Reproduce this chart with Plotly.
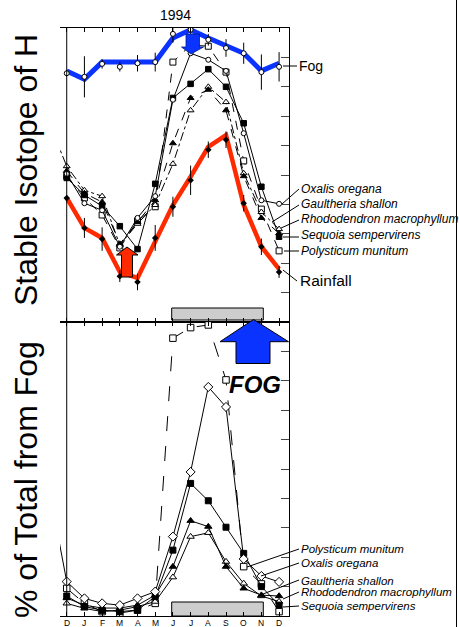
import plotly.graph_objects as go

# ---------------- data ----------------
months = ["D", "J", "F", "M", "A", "M", "J", "J", "A", "S", "O", "N", "D"]
month_idx = list(range(len(months)))
prev_idx = -1  # November of the previous year (only its connecting segment is visible)

# top panel: deuterium (arbitrary delta units, no tick labels in source)
fog_line = [-37.3, -38.7, -35.8, -35.8, -35.8, -35.8, -31.7, -30.3, -31.7, -32.9, -34.3, -37.3, -36.0]
fog_dD = [-37.7, -38.3, -36.1, -36.6, -36.0, -35.8, -31.0, -30.3, -32.0, -33.4, -34.3, -37.5, -36.6]
fog_err = [0.5, 3.5, 0.8, 0.8, 1.4, 1.6, 1.5, 1.0, 1.0, 1.5, 1.8, 3.0, 2.5]
rain_line = [-58.9, -64.0, -65.7, -71.5, -72.5, -66.1, -60.1, -55.3, -50.2, -48.2, -60.1, -67.2, -71.0]
rain_dD = [-58.9, -64.0, -65.9, -72.2, -73.2, -65.7, -60.4, -55.9, -50.7, -49.0, -59.8, -67.2, -71.5]
rain_err = [0.5, 1.7, 2.0, 1.0, 1.4, 2.2, 1.7, 2.5, 1.4, 1.4, 1.4, 1.4, 1.0]

oxalis_dD = [-54.8, -59.8, -61.0, -67.2, -62.3, -58.6, -42.2, -34.3, -35.4, -37.3, -47.9, -59.3, -59.9]
sequoia_dD = [-55.5, -58.4, -60.3, -63.7, -67.6, -56.5, -41.9, -39.5, -37.0, -40.0, -46.2, -57.0, -65.5]
polysticum_dD = [-55.2, -58.9, -61.8, -67.4, -62.8, -60.4, -35.8, -32.9, -33.1, -37.5, -52.6, -60.8, -67.9]
gaultheria_dD = [-54.3, -58.1, -59.6, -66.7, -63.0, -59.3, -49.6, -41.9, -40.5, -44.0, -55.2, -62.3, -64.9]
rhodo_dD = [-53.5, -57.6, -58.6, -66.9, -63.3, -60.1, -53.1, -44.0, -40.0, -42.6, -54.7, -61.3, -64.2]
rhodo_dD_prev = -46.1

# bottom panel: % of total water from fog
oxalis_pct = [11.7, 6.0, 4.3, 3.7, 6.0, 8.3, 27.0, 49.0, 77.9, 71.1, 19.4, 13.6, 11.6]
oxalis_pct_prev = 43.5
polysticum_pct = [9.4, 4.3, 1.5, 1.0, 2.0, 4.3, 94.5, 98.1, 99.0, 80.3, 16.8, 10.9, 1.5]
sequoia_pct = [6.8, 3.2, 2.0, 1.5, 2.0, 6.6, 22.4, 45.1, 39.2, 30.2, 21.3, 10.0, 3.7]
gaultheria_pct = [6.1, 3.7, 2.7, 2.7, 3.7, 7.1, 16.8, 32.4, 30.4, 16.8, 9.4, 7.1, 6.8]
rhodo_pct = [4.3, 2.6, 1.5, 2.0, 3.2, 4.9, 13.2, 27.0, 28.3, 18.5, 11.1, 6.8, 4.9]

# ---------------- layout helpers (pixel -> paper) ----------------
FW, FH = 459, 627
L, T, R, B = 60, 28, 170, 11
PW, PH = FW - L - R, FH - T - B


def px(x):
    return (x - L) / PW


def py(y):
    return (T + PH - y) / PH


FONT = "Liberation Sans, Arial, Helvetica, sans-serif"
BLUE = "#0a33ff"
RED = "#ff2a00"

fig = go.Figure()


def species(y, sym, dash, size, fill, xa, ya, prev=None):
    xs, ys = list(month_idx), list(y)
    if prev is not None:
        xs, ys = [prev_idx] + xs, [prev] + ys
    fig.add_trace(go.Scatter(
        x=xs, y=ys, mode="lines+markers", xaxis=xa, yaxis=ya,
        line=dict(color="black", width=1, dash=dash),
        marker=dict(symbol=sym, size=size, color=fill, line=dict(color="black", width=1)),
        showlegend=False, hoverinfo="skip"))


# top panel species
species(polysticum_dD, "square", "dash", 6, "white", "x", "y")
species(rhodo_dD, "triangle-up", "dashdot", 6, "white", "x", "y", prev=rhodo_dD_prev)
species(gaultheria_dD, "triangle-up", "dash", 6, "black", "x", "y")
species(sequoia_dD, "square", "solid", 5.5, "black", "x", "y")
species(oxalis_dD, "circle", "solid", 5, "white", "x", "y")

# thick highlight lines
fig.add_trace(go.Scatter(x=month_idx, y=rain_line, mode="lines", line=dict(color=RED, width=4.5),
                         showlegend=False, hoverinfo="skip"))
fig.add_trace(go.Scatter(x=month_idx, y=fog_line, mode="lines", line=dict(color=BLUE, width=5),
                         showlegend=False, hoverinfo="skip"))
# measured fog and rain with error bars
fig.add_trace(go.Scatter(x=month_idx, y=fog_dD, mode="markers",
                         marker=dict(symbol="circle", size=5, color="white", line=dict(color="black", width=1)),
                         error_y=dict(type="data", array=fog_err, color="black", thickness=1, width=0),
                         showlegend=False, hoverinfo="skip"))
fig.add_trace(go.Scatter(x=month_idx, y=rain_dD, mode="markers",
                         marker=dict(symbol="diamond", size=5, color="black"),
                         error_y=dict(type="data", array=rain_err, color="black", thickness=1, width=0),
                         showlegend=False, hoverinfo="skip"))

# bottom panel species
species(polysticum_pct, "square", "longdash", 6.5, "white", "x2", "y2")
species(rhodo_pct, "triangle-up", "solid", 6.5, "white", "x2", "y2")
species(gaultheria_pct, "triangle-up", "solid", 6.5, "black", "x2", "y2")
species(sequoia_pct, "square", "solid", 6, "black", "x2", "y2")
species(oxalis_pct, "diamond", "solid", 7, "white", "x2", "y2", prev=oxalis_pct_prev)

xr = [-0.38, 12.56]
ax_common = dict(range=xr, showgrid=False, zeroline=False, showline=True, linecolor="black",
                 linewidth=1, mirror="ticks", ticks="inside", ticklen=4, tickcolor="black",
                 tickvals=month_idx, showticklabels=False)
fig.update_layout(
    width=FW, height=FH, margin=dict(l=L, r=R, t=T, b=B, autoexpand=False),
    paper_bgcolor="white", plot_bgcolor="white", showlegend=False,
    font=dict(family=FONT, color="black"),
    xaxis=dict(**ax_common, anchor="y"),
    xaxis2=dict(**ax_common, anchor="y2"),
    yaxis=dict(domain=[0.5, 1], range=[-80, -30], dtick=5, side="right", anchor="x",
               showgrid=False, zeroline=False, showline=True, linecolor="black", linewidth=1,
               ticks="inside", ticklen=8, showticklabels=False),
    yaxis2=dict(domain=[0, 0.5], range=[0, 100], dtick=10, side="right", anchor="x2",
                showgrid=False, zeroline=False, showline=True, linecolor="black", linewidth=1,
                ticks="inside", ticklen=8, showticklabels=False),
)

shapes = []
# vertical line at first December
shapes.append(dict(type="line", xref="x", yref="paper", x0=0, x1=0, y0=0, y1=1,
                   line=dict(color="black", width=1)))
# fog-season boxes
for y0, y1 in [(320, 308), (616, 602)]:
    shapes.append(dict(type="rect", xref="paper", yref="paper", x0=px(171.7), x1=px(263.3),
                       y0=py(y0), y1=py(y1), fillcolor="#cdcdcd",
                       line=dict(color="black", width=1), layer="below"))


def path(pts):
    return "M " + " L ".join(f"{px(a):.5f},{py(b):.5f}" for a, b in pts) + " Z"


# red arrow (up)
shapes.append(dict(type="path", xref="paper", yref="paper", layer="above",
                   path=path([(121.5, 277), (121.5, 255), (116.5, 255), (127, 247), (138, 255),
                              (132.5, 255), (132.5, 277)]),
                   fillcolor=RED, line=dict(color="black", width=1)))
# small blue arrow (down)
shapes.append(dict(type="path", xref="paper", yref="paper", layer="above",
                   path=path([(186, 34), (199.5, 34), (199.5, 47), (203.5, 47), (191, 54),
                              (181.5, 47), (186, 47)]),
                   fillcolor=BLUE, line=dict(color="#001a80", width=0.8)))
# big blue arrow (up)
shapes.append(dict(type="path", xref="paper", yref="paper", layer="above",
                   path=path([(236, 363.5), (236, 341.7), (220, 341.7), (253.5, 319.5), (288.5, 341.7),
                              (270, 341.7), (270, 363.5)]),
                   fillcolor=BLUE, line=dict(color="black", width=1)))

# leader lines
leaders = [
    ((283, 66), (297, 66)),
    ((299, 189), (282, 204)),
    ((299, 205), (272, 222)),
    ((299, 220), (281, 228)),
    ((299, 237), (283, 237)),
    ((299, 251), (284, 251)),
    ((297, 281), (283, 270)),
    ((299, 549), (247, 567)),
    ((299, 563), (261, 576)),
    ((299, 580), (263, 594)),
    ((299, 592), (283, 599)),
    ((299, 606), (283, 607)),
]
for (a, b), (c, d) in leaders:
    shapes.append(dict(type="line", xref="paper", yref="paper", x0=px(a), y0=py(b), x1=px(c), y1=py(d),
                       line=dict(color="black", width=1)))
# outer frame line on the right
shapes.append(dict(type="line", xref="paper", yref="paper", x0=px(456.5), x1=px(456.5),
                   y0=py(FH), y1=py(0), line=dict(color="black", width=1)))
fig.update_layout(shapes=shapes)

ann = []


def text(t, x, y, size, italic=False, xanchor="left", angle=0, bold=False, fam=FONT):
    s = t
    if italic:
        s = f"<i>{s}</i>"
    if bold:
        s = f"<b>{s}</b>"
    ann.append(dict(text=s, x=px(x), y=py(y), xref="paper", yref="paper", showarrow=False,
                    xanchor=xanchor, yanchor="middle", textangle=angle, borderpad=0,
                    font=dict(size=size, family=fam, color="black")))


# month labels along the bottom axis
for i, m in zip(month_idx, months):
    ann.append(dict(text=m, x=i, xref="x2", y=py(622.5), yref="paper", showarrow=False,
                    xanchor="center", yanchor="middle", borderpad=0,
                    font=dict(size=8.5, family=FONT, color="black")))

text("1994", 175, 15, 14, xanchor="center")
text("Fog", 298, 66, 14)
text("Rainfall", 299, 280, 15.5)
top_labels = [("Oxalis oregana", 189.3), ("Gaultheria shallon", 204.3),
              ("Rhododendron macrophyllum", 219.3), ("Sequoia sempervirens", 235),
              ("Polysticum munitum", 250.7)]
for t, y in top_labels:
    text(t, 300, y, 12, italic=True)
bottom_labels = [("Polysticum munitum", 549.3), ("Oxalis oregana", 563.3),
                 ("Gaultheria shallon", 580.5), ("Rhododendron macrophyllum", 592.3),
                 ("Sequoia sempervirens", 606)]
for t, y in bottom_labels:
    text(t, 300, y, 11.5, italic=True)
text("<i>FOG</i>", 255, 384, 24, xanchor="center", bold=True)
text("Stable Isotope of H", 26, 170, 32, xanchor="center", angle=-90)
text("% of Total from Fog", 26, 480, 32, xanchor="center", angle=-90)
fig.update_layout(annotations=ann)

fig.write_html("out.html", config={"displayModeBar": False},
               post_script="document.body.style.margin='0';document.body.style.padding='0';")
